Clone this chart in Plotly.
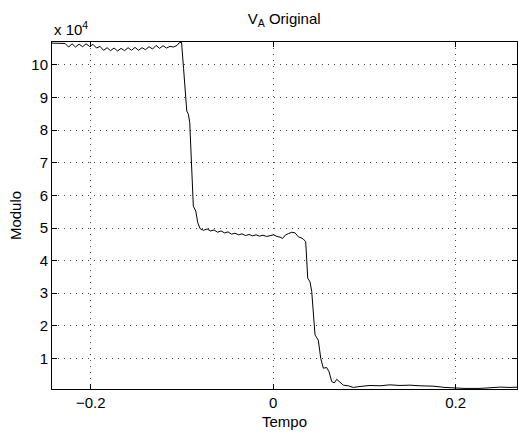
import plotly.graph_objects as go

# Time samples (s) and module values
tempo = [
    -0.2425, -0.2336, -0.2282, -0.2243, -0.2205, -0.2167, -0.2128, -0.2090, -0.2052, -0.2013,
    -0.1975, -0.1936, -0.1898, -0.1860, -0.1821, -0.1783, -0.1745, -0.1706, -0.1668, -0.1630,
    -0.1591, -0.1553, -0.1515, -0.1476, -0.1438, -0.1400, -0.1361, -0.1323, -0.1284, -0.1246,
    -0.1208, -0.1169, -0.1131, -0.1093, -0.1054, -0.1032, -0.1005,
    -0.0983, -0.0948, -0.0930, -0.0915, -0.0876, -0.0849, -0.0827, -0.0802,
    -0.0764, -0.0725, -0.0687, -0.0649, -0.0610, -0.0572, -0.0534, -0.0495, -0.0457, -0.0419,
    -0.0380, -0.0342, -0.0304, -0.0265, -0.0227, -0.0188, -0.0150, -0.0112, -0.0073, -0.0035,
    0.0003, 0.0042, 0.0075, 0.0102, 0.0135, 0.0168, 0.0203, 0.0239, 0.0275, 0.0305,
    0.0330, 0.0356, 0.0378, 0.0403, 0.0422, 0.0458, 0.0494, 0.0521, 0.0549, 0.0586,
    0.0612, 0.0641, 0.0670, 0.0696, 0.0732, 0.0768, 0.0823, 0.0878, 0.0951, 0.1061,
    0.1170, 0.1279, 0.1389, 0.1498, 0.1608, 0.1751, 0.1882, 0.1992, 0.2102, 0.2266,
    0.2375, 0.2485, 0.2595, 0.2672,
]
modulo = [
    106700, 106700, 106600, 105500, 106500, 105500, 106400, 105600, 106500, 105700,
    106300, 105200, 105700, 104500, 105300, 104400, 105200, 104300, 105100, 104400,
    105300, 104500, 105400, 104500, 105300, 104700, 105600, 104900, 106000, 105100,
    105900, 105200, 105700, 105500, 106000, 106800, 107000,
    99000, 85900, 84900, 82300, 56700, 55200, 51600, 49800,
    49300, 49700, 49100, 49400, 48700, 49100, 48500, 48800, 48100, 48400,
    47900, 48200, 47700, 48000, 47600, 47900, 47500, 47800, 47400, 47700,
    47900, 47400, 47200, 46800, 47900, 48300, 48700, 48500, 47300, 47000,
    46600, 45800, 34600, 33500, 30500, 17200, 15600, 10000, 7000, 7200,
    5900, 2900, 2500, 3600, 2700, 1800, 1600, 1100, 1400, 1700,
    1600, 1900, 1700, 1800, 1600, 1500, 1100, 900, 800, 800,
    1100, 1200, 1100, 1200,
]

x_ticks = [-0.2, 0, 0.2]
x_tick_text = ["\u22120.2", "0", "0.2"]
y_ticks = [10000 * k for k in range(1, 11)]
y_tick_text = [str(k) for k in range(1, 11)]

FONT = "Liberation Sans, Arial, Helvetica, sans-serif"
FS = 15

fig = go.Figure()
fig.add_trace(go.Scatter(
    x=tempo, y=modulo, mode="lines",
    line=dict(color="black", width=1),
    hoverinfo="skip", showlegend=False,
))

axis_common = dict(
    showline=True, linecolor="black", linewidth=1, mirror="ticks",
    ticks="inside", ticklen=5, tickwidth=1, tickcolor="black",
    showgrid=True, gridcolor="#444444", gridwidth=1, griddash="1px,5px",
    zeroline=False, tickfont=dict(family=FONT, size=FS, color="black"),
)

fig.update_layout(
    width=518, height=438,
    margin=dict(l=52, r=1, t=42, b=49, autoexpand=False),
    paper_bgcolor="white", plot_bgcolor="white",
    font=dict(family=FONT, size=FS, color="black"),
    title=dict(
        text="V<sub>A</sub> Original", x=0.5486, xanchor="center",
        y=1 - 24 / 438, yanchor="bottom",
        font=dict(family=FONT, size=FS, color="black"),
    ),
    xaxis=dict(
        range=[-0.2425, 0.2672], tickvals=x_ticks, ticktext=x_tick_text,
        title=dict(text="Tempo", standoff=6, font=dict(family=FONT, size=FS)),
        **axis_common,
    ),
    yaxis=dict(
        range=[620, 107050], tickvals=y_ticks, ticktext=y_tick_text,
        title=dict(text="Modulo", standoff=6, font=dict(family=FONT, size=FS)),
        **axis_common,
    ),
    annotations=[dict(
        text="x 10<sup>4</sup>", xref="paper", yref="paper", x=0, y=1,
        xanchor="left", yanchor="bottom", yshift=2, showarrow=False,
        font=dict(family=FONT, size=FS, color="black"),
    )],
)

fig.write_html("out.html")
